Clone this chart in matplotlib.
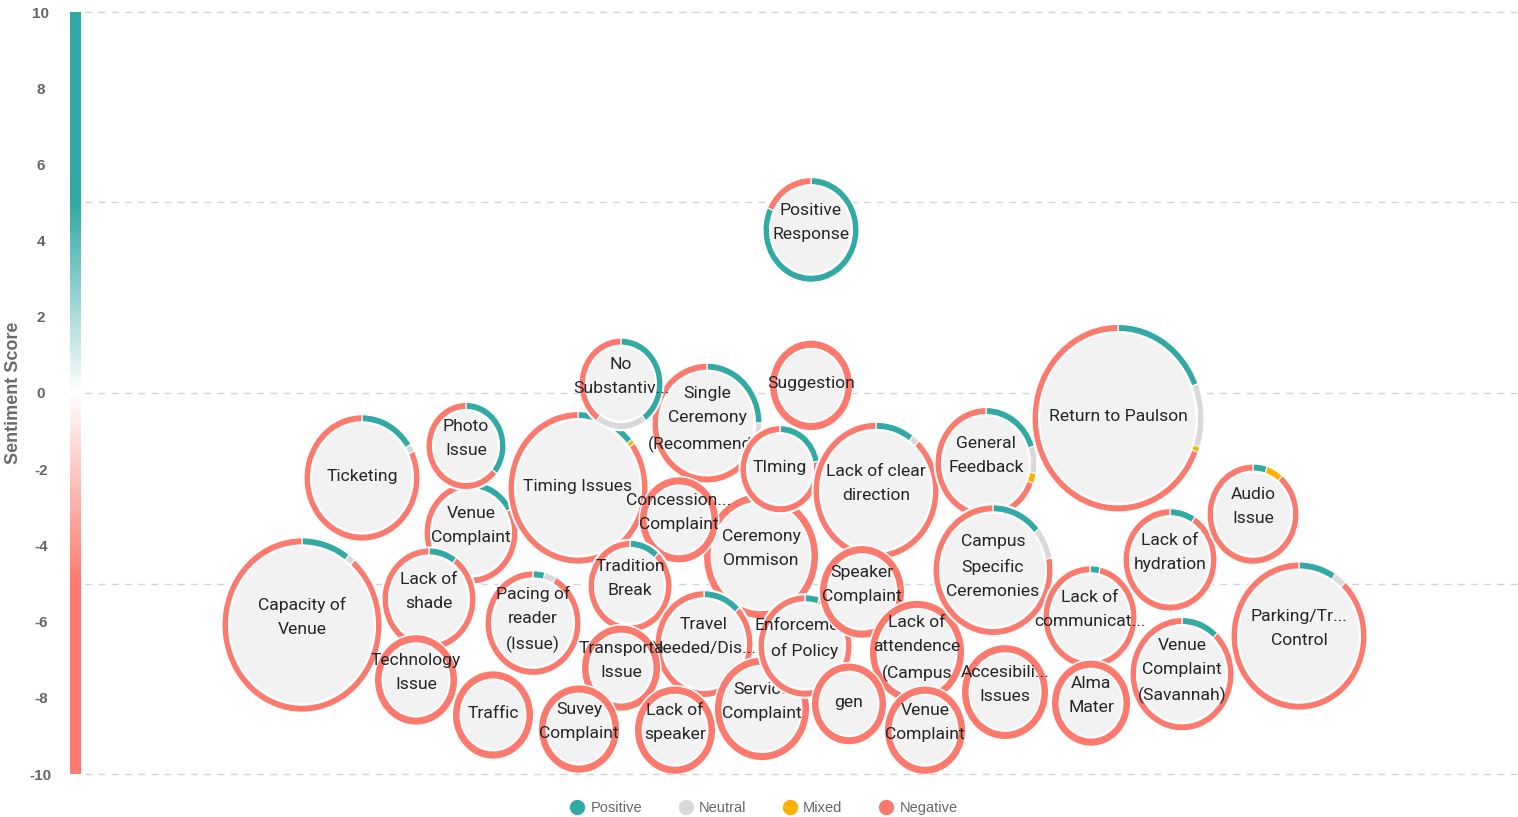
import numpy as np
import matplotlib.pyplot as plt
from matplotlib.patches import Wedge, Ellipse
from matplotlib.colors import LinearSegmentedColormap
from matplotlib.lines import Line2D
from matplotlib.transforms import Affine2D

plt.rcParams['axes.unicode_minus'] = False

# bubble data (drawing order = stacking order)
labels = ["Capacity of\nVenue", "Ticketing", "Venue\nComplaint", "Photo\nIssue", "Lack of\nshade",
          "Technology\nIssue", "Traffic", "Pacing of\nreader\n(Issue)", "Timing Issues",
          "Single\nCeremony\n(Recommend...", "No\nSubstantiv...", "Ceremony\nOmmison",
          "Concession...\nComplaint", "Tradition\nBreak", "TIming", "Lack of clear\ndirection",
          "Travel\nNeeded/Dis...", "Transporta\nIssue", "Suvey\nComplaint", "Lack of\nspeaker",
          "Service\nComplaint", "Enforcement\nof Policy", "Speaker\nComplaint",
          "Lack of\nattendence\n(Campus", "gen", "Venue\nComplaint", "Suggestion",
          "Positive\nResponse", "General\nFeedback", "Campus\nSpecific\nCeremonies",
          "Accesibili...\nIssues", "Lack of\ncommunicat...", "Alma\nMater", "Return to Paulson",
          "Lack of\nhydration", "Audio\nIssue", "Venue\nComplaint\n(Savannah)",
          "Parking/Tr...\nControl"]
bubble_x = [302, 362, 471, 466, 429, 416, 493, 533, 578, 707, 621, 761, 679, 630, 780, 876,
            704, 621, 579, 675, 762, 805, 862, 917, 849, 925, 811, 811, 986, 993, 1005, 1090,
            1091, 1118, 1170, 1253, 1182, 1299]
score = [-6.09, -2.23, -3.67, -1.39, -5.41, -7.53, -8.45, -6.04, -2.49, -0.79, 0.24, -4.28,
         -3.33, -5.07, -2.0, -2.57, -6.59, -7.22, -8.82, -8.85, -8.29, -6.64, -5.22, -6.80,
         -8.16, -8.85, 0.2, 4.28, -1.84, -4.65, -7.85, -5.88, -8.14, -0.66, -4.38, -3.18,
         -7.38, -6.38]
radius = [80, 58, 47, 40, 47, 41, 40, 48, 70, 55, 42, 57, 39, 42, 40, 63, 49, 39, 40, 40, 47,
          47, 42, 47, 37, 40, 41, 48, 51, 60, 43, 47, 39, 86, 47, 46, 52, 68]
pos = [0.10, 0.16, 0.17, 0.36, 0.10, 0, 0, 0.04, 0.14, 0.25, 0.40, 0, 0, 0.12, 0.22, 0.10,
       0.13, 0, 0, 0, 0, 0.05, 0, 0, 0, 0, 0, 0.82, 0.20, 0.14, 0, 0.035, 0, 0.19, 0.09, 0.05,
       0.12, 0.09]
neu = [0.015, 0.02, 0, 0, 0, 0, 0, 0.04, 0, 0.03, 0.20, 0, 0, 0, 0, 0.02, 0, 0, 0, 0, 0, 0, 0,
       0, 0, 0, 0, 0, 0.08, 0.08, 0, 0, 0, 0.11, 0, 0, 0, 0.03]
mix = [0, 0, 0, 0, 0, 0, 0, 0, 0.01, 0, 0, 0, 0, 0, 0, 0, 0, 0, 0, 0, 0, 0, 0, 0, 0, 0, 0, 0,
       0.03, 0, 0, 0, 0, 0.01, 0, 0.06, 0, 0]
neg = [0.885, 0.82, 0.83, 0.64, 0.90, 1, 1, 0.92, 0.85, 0.72, 0.40, 1, 1, 0.88, 0.78, 0.88,
       0.87, 1, 1, 1, 1, 0.95, 1, 1, 1, 1, 1, 0.18, 0.69, 0.78, 1, 0.965, 1, 0.69, 0.91, 0.89,
       0.88, 0.88]

legend_names = ["Positive", "Neutral", "Mixed", "Negative"]
ring_colors = ["#33a9a5", "#d9d9d9", "#ffb000", "#fb7a6d"]

W, H = 1518, 817
fig = plt.figure(figsize=(W / 100, H / 100), dpi=100)
left, right, top, bottom = 70, 1518, 12, 774
ax = fig.add_axes([left / W, 1 - bottom / H, (right - left) / W, (bottom - top) / H])

# color bar along the y axis
cmap = LinearSegmentedColormap.from_list(
    "sent", [(0, "#fd7b6e"), (0.25, "#fd7b6e"), (0.5, "#ffffff"), (0.75, "#33a9a5"), (1, "#33a9a5")])
ax.imshow(np.linspace(-10, 10, 300).reshape(-1, 1), extent=(70, 81, -10, 10), origin="lower",
          cmap=cmap, aspect="auto", zorder=1)

ax.hlines([-10, -5, 0, 5, 10], 85, 1518, colors="#d4d4d4", linestyles=(0, (5, 4.5)), lw=1,
          clip_on=False, zorder=0)

ax.set_xlim(left, right)
ax.set_ylim(-10, 10)
for s in ax.spines.values():
    s.set_visible(False)
ax.set_xticks([])
ax.set_yticks(range(-10, 11, 2))
ax.set_yticklabels([str(v) for v in range(-10, 11, 2)])
ax.tick_params(axis="y", length=0, pad=21, labelsize=11, labelcolor="#666666")
for lab in ax.get_yticklabels():
    lab.set_ha("center")
    lab.set_fontweight("bold")
    lab.set_family("Liberation Sans")

# bubbles are slightly taller than wide in the reference
ky = 1.09 * 20 / (bottom - top)
for i, name in enumerate(labels):
    z = 3 + i
    r = radius[i]
    tr = Affine2D().scale(1, ky).translate(bubble_x[i], score[i]) + ax.transData
    ax.add_patch(Ellipse((0, 0), 2 * r + 3, 2 * r + 3, facecolor="white", edgecolor="none",
                         transform=tr, zorder=z))
    fracs = [pos[i], neu[i], mix[i], neg[i]]
    multi = sum(f > 0 for f in fracs) > 1
    start = 0
    for f, c in zip(fracs, ring_colors):
        if f <= 0:
            continue
        end = start + 360 * f
        ax.add_patch(Wedge((0, 0), r, 90 - end, 90 - start, width=6.5, facecolor=c,
                           edgecolor="white" if multi else "none", lw=0.8,
                           transform=tr, zorder=z))
        start = end
    ax.add_patch(Ellipse((0, 0), 2 * (r - 8.3), 2 * (r - 8.3), facecolor="#f2f2f2",
                         edgecolor="none", transform=tr, zorder=z))
    nlines = name.count("\n") + 1
    dy = {1: 1, 2: 5.5, 3: 2.5}[nlines]
    ax.annotate(name, (bubble_x[i], score[i]), xytext=(0, dy),
                textcoords="offset points", ha="center", va="center", fontsize=12.6,
                family="Roboto", color="#262626", linespacing=1.75, zorder=z)

fig.text(14 / W, 1 - 393 / H, "Sentiment Score", rotation=90, ha="center", va="center",
         fontsize=13, fontweight="bold", color="#6a6a6a", family="Liberation Sans")

handles = [Line2D([], [], marker="o", ls="none", markersize=10, markerfacecolor=c,
                  markeredgecolor=c) for c in ring_colors]
fig.legend(handles, legend_names, loc="center", bbox_to_anchor=(763 / W, 1 - 808 / H), ncol=4,
           frameon=False, handlelength=1.2, handletextpad=0.3, columnspacing=2.4,
           prop={"family": "Liberation Sans", "size": 10.5}, labelcolor="#666666")

fig.savefig("out.png", dpi=100, facecolor="white")
